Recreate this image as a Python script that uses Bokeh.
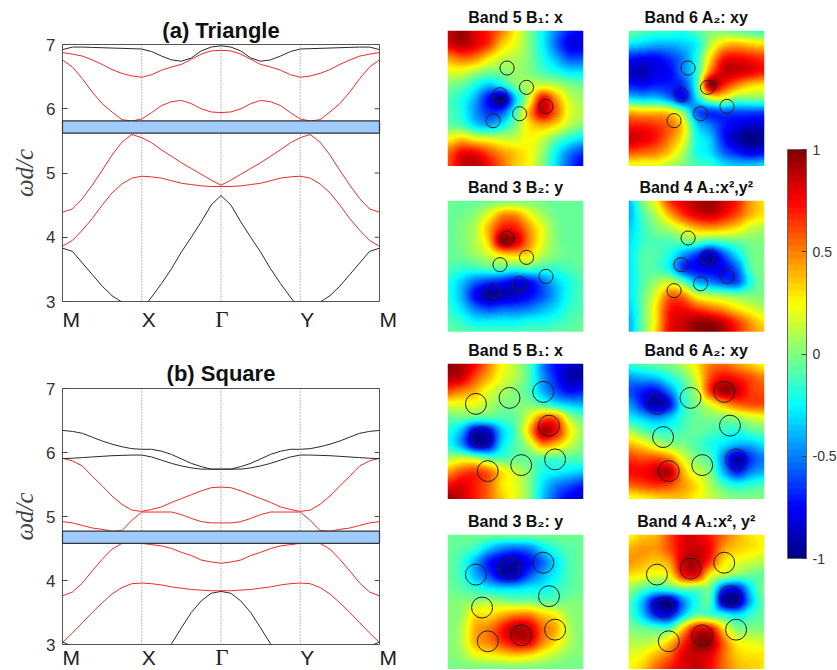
import numpy as np
from bokeh.core.properties import value
from bokeh.embed import file_html
from bokeh.resources import INLINE
from bokeh.plotting import figure
from bokeh.models import (ColorBar, FixedTicker, LinearColorMapper, Range1d, Span)

# ---------- band diagrams: values read from M to Gamma, every 1/8 of a segment (mirrored on Gamma)
tri_black_low = [3.83,3.78,3.60,3.42,3.24,3.09,2.99,None,2.87,3.07,3.28,3.51,3.77,4.00,4.24,4.50,4.65]
tri_red_1 = [3.86,3.95,4.11,4.29,4.50,4.69,4.83,4.92,4.95,4.94,4.92,4.88,4.84,4.82,4.80,4.79,4.79]
tri_red_2 = [4.39,4.44,4.60,4.81,5.04,5.28,5.48,5.60,5.55,5.47,5.36,5.26,5.16,5.07,4.98,4.89,4.81]
tri_red_3 = [6.76,6.65,6.47,6.26,6.08,5.95,5.83,5.81,5.84,5.94,6.05,6.11,6.13,6.08,6.00,5.95,5.94]
tri_red_4 = [6.875,6.85,6.82,6.76,6.69,6.61,6.55,6.51,6.49,6.53,6.60,6.65,6.69,6.77,6.85,6.90,6.91]
tri_black_top = [6.92,6.96,6.96,6.955,6.95,6.945,6.94,6.935,6.93,6.89,6.82,6.76,6.74,6.79,6.90,6.96,6.98]

sq_black_low = [3.04,2.97,None,None,None,None,None,None,None,None,2.87,3.01,3.26,3.50,3.68,3.80,3.83]
sq_red_1 = [3.03,3.18,3.34,3.50,3.65,3.79,3.89,3.95,3.96,3.95,3.93,3.90,3.88,3.86,3.85,3.84,3.84]
sq_red_2 = [3.76,3.82,3.96,4.15,4.33,4.49,4.58,4.60,4.58,4.56,4.54,4.50,4.44,4.39,4.32,4.29,4.27]
sq_red_3 = [4.92,4.90,4.86,4.82,4.80,4.77,4.78,4.94,5.07,5.07,5.07,5.07,5.03,4.97,4.92,4.90,4.90]
sq_red_4 = [5.91,5.87,5.79,5.63,5.48,5.32,5.19,5.10,5.08,5.11,5.15,5.22,5.28,5.34,5.40,5.45,5.46]
sq_black_1 = [5.905,5.91,5.92,5.93,5.94,5.95,5.955,5.96,5.96,5.93,5.88,5.83,5.79,5.76,5.74,5.74,5.74]
sq_black_2 = [6.345,6.33,6.30,6.24,6.18,6.13,6.09,6.06,6.05,6.05,6.02,5.97,5.90,5.83,5.78,5.74,5.74]

tri_gap = [5.62, 5.81]
sq_gap = [4.58, 4.77]
k_half = [0,.125,.25,.375,.5,.625,.75,.875,1,1.125,1.25,1.375,1.5,1.625,1.75,1.875,2]
k_ticks = [0, 1, 2, 3, 4]
k_labels = ["M","X","Γ","Y","M"]
w_ticks = [3,4,5,6,7]

# ---------- field maps: 11 x 11 values, top row first
f_tri_b5 = [
[.85,.95,.8,.7,.5,.25,0,-.25,-.5,-.7,-.75],
[.8,.9,.8,.65,.35,.2,0,-.25,-.55,-.8,-.8],
[.45,.55,.5,.3,.15,.1,0,-.2,-.4,-.6,-.6],
[.2,.2,.1,0,0,.05,0,-.1,-.2,-.3,-.3],
[0,-.05,-.2,-.35,-.25,0,.1,.15,.1,0,-.05],
[-.1,-.2,-.4,-.75,-1,-.35,.15,.75,.45,.15,.05],
[-.1,-.2,-.45,-.65,-.6,-.15,.4,.85,.55,.2,.1],
[-.05,-.1,-.3,-.4,-.25,0,.3,.4,.3,.1,0],
[.25,.35,.25,.2,.15,.15,.25,.15,-.05,-.2,-.3],
[.55,.75,.75,.6,.45,.35,.25,.05,-.25,-.5,-.65],
[.6,.85,.9,.75,.55,.35,.25,0,-.3,-.6,-.8]]
f_tri_a2 = [
[-.05,-.1,-.15,-.15,-.2,-.1,0,0,-.05,-.1,-.15],
[-.3,-.35,-.4,-.4,-.35,-.25,.1,.35,.4,.35,.3],
[-.7,-.75,-.75,-.65,-.5,-.2,.3,.7,.75,.7,.65],
[-.85,-.9,-.8,-.75,-.5,-.2,.5,.85,.85,.8,.7],
[-.7,-.75,-.7,-.7,-.65,-.15,.95,.7,.5,.35,.3],
[-.3,-.35,-.35,-.5,-.75,-.3,.15,.2,0,0,0],
[.4,.35,.35,.3,0,-.55,-.65,-.6,-.6,-.6,-.6],
[.7,.7,.65,.55,.3,-.3,-.5,-.7,-.8,-.85,-.85],
[.85,.8,.7,.5,.25,-.2,-.35,-.7,-.9,-1,-.95],
[.6,.55,.5,.35,.1,-.2,-.3,-.55,-.7,-.8,-.75],
[.2,.2,.2,.1,0,-.1,-.15,-.3,-.35,-.35,-.3]]
f_tri_b3 = [
[-.05,-.05,-.05,-.03,0,0,0,-.03,-.05,-.05,-.05],
[-.05,-.03,.03,.2,.45,.45,.25,.07,-.03,-.05,-.05],
[-.05,0,.1,.4,.7,.7,.45,.2,0,-.05,-.05],
[-.05,0,.1,.35,.95,.85,.5,.2,0,-.05,-.05],
[-.05,-.03,.05,.15,.3,.35,.3,.1,0,-.05,-.05],
[-.1,-.15,-.15,-.1,-.1,-.15,-.1,-.15,-.15,-.1,-.05],
[-.2,-.35,-.55,-.65,-.7,-.8,-.75,-.55,-.35,-.2,-.1],
[-.2,-.4,-.75,-.95,-.9,-.85,-.75,-.6,-.4,-.2,-.1],
[-.15,-.3,-.5,-.6,-.55,-.55,-.5,-.4,-.3,-.15,-.1],
[-.1,-.15,-.25,-.25,-.25,-.25,-.2,-.2,-.15,-.1,-.05],
[-.05,-.05,-.08,-.08,-.08,-.08,-.08,-.08,-.05,-.05,-.05]]
f_tri_a1 = [
[-.4,0,.25,.65,.8,.9,.95,.85,.7,.45,.3],
[-.4,-.1,.1,.4,.65,.8,.85,.75,.6,.4,.3],
[-.35,-.15,0,.1,.25,.4,.45,.4,.3,.15,.1],
[-.3,-.15,-.1,-.1,-.05,-.05,-.15,-.1,-.05,0,0],
[-.3,-.1,-.1,-.2,-.45,-.65,-.9,-.6,-.3,-.05,0],
[-.3,-.1,-.1,-.25,-.65,-.75,-.8,-.75,-.55,-.1,0],
[-.3,-.1,.05,.15,-.05,-.4,-.5,-.6,-.6,-.2,0],
[-.3,-.05,.2,.55,.5,.2,.1,.05,0,0,0],
[-.35,-.05,.3,.7,.75,.65,.55,.45,.3,.2,.1],
[-.4,-.05,.3,.75,.85,.95,.95,.85,.65,.45,.3],
[-.4,-.05,.35,.75,.85,.95,1,.9,.7,.5,.4]]
f_sq_b5 = [
[.95,.9,.75,.5,.25,.1,-.1,-.5,-.75,-.85,-.9],
[.9,.85,.6,.4,.2,.1,-.1,-.45,-.7,-.9,-.9],
[.6,.5,.4,.2,.1,0,-.1,-.4,-.6,-.75,-.7],
[.2,.2,.2,.1,0,0,0,-.1,-.25,-.35,-.4],
[-.05,-.05,-.1,-.1,-.1,-.05,.2,.55,.55,.1,-.05],
[-.2,-.4,-.85,-.8,-.35,-.1,.35,.9,.75,.3,.05],
[-.2,-.45,-.85,-.8,-.3,-.1,.1,.45,.35,.15,0],
[.1,.15,.1,-.05,-.1,-.05,-.05,-.1,-.1,-.1,-.1],
[.45,.6,.65,.55,.3,.15,0,-.2,-.25,-.3,-.35],
[.75,.8,.7,.55,.3,.2,0,-.3,-.5,-.6,-.7],
[.95,.85,.7,.55,.35,.2,0,-.35,-.6,-.8,-.85]]
f_sq_a2 = [
[-.15,-.1,-.05,0,.1,.3,.5,.55,.45,.35,.25],
[-.45,-.4,-.35,-.2,-.05,.2,.6,.75,.7,.6,.5],
[-.6,-.7,-.75,-.5,-.15,.1,.65,.95,.85,.65,.6],
[-.45,-.7,-.95,-.75,-.2,0,.2,.4,.55,.6,.6],
[-.25,-.35,-.45,-.35,-.15,-.05,0,0,.05,.15,.2],
[.1,-.05,-.15,-.15,-.1,-.05,-.1,-.15,-.2,-.1,-.05],
[.4,.3,.15,.05,0,-.1,-.2,-.3,-.4,-.4,-.3],
[.65,.6,.6,.5,.2,0,-.1,-.5,-.95,-.65,-.5],
[.75,.75,.85,.9,.4,.15,0,-.4,-.7,-.5,-.4],
[.55,.6,.65,.6,.45,.3,.1,-.1,-.2,-.15,-.1],
[.2,.25,.3,.35,.35,.25,.15,.05,0,0,0]]
f_sq_b3 = [
[-.03,-.03,-.03,-.03,-.03,-.03,-.03,-.03,-.03,-.03,-.03],
[-.05,-.08,-.15,-.35,-.5,-.55,-.5,-.3,-.15,-.08,-.05],
[-.05,-.15,-.4,-.7,-.85,-.9,-.75,-.55,-.3,-.1,-.05],
[-.05,-.15,-.4,-.6,-.85,-.85,-.6,-.4,-.25,-.1,-.05],
[-.03,-.08,-.15,-.25,-.3,-.3,-.25,-.25,-.15,-.08,-.03],
[0,.02,.05,.1,.05,0,0,-.05,-.05,0,0],
[0,.05,.3,.3,.4,.5,.5,.35,.25,.05,0],
[0,.1,.4,.5,.7,.9,.85,.55,.4,.1,0],
[0,.1,.4,.5,.65,.8,.8,.5,.3,.1,0],
[0,.05,.2,.25,.3,.35,.3,.2,.1,.02,0],
[-.03,-.03,-.03,-.03,-.03,-.03,-.03,-.03,-.03,-.03,-.03]]
f_sq_a1 = [
[.25,.35,.4,.6,.8,.8,.7,.55,.4,.3,.25],
[.4,.45,.45,.6,.8,.85,.75,.45,.35,.3,.25],
[.45,.4,.35,.45,.85,.9,.65,.3,.2,.15,.1],
[.3,.25,.2,.25,.7,.75,.25,.1,0,-.05,-.05],
[.05,-.1,-.2,-.15,-.05,-.05,-.05,-.65,-.75,-.3,0],
[-.1,-.4,-.85,-1,-.5,-.2,-.1,-.9,-.95,-.4,-.05],
[-.1,-.35,-.7,-.75,-.35,-.05,-.1,-.2,-.3,-.15,-.05],
[0,-.05,-.1,-.1,.35,.75,.75,.3,0,0,0],
[.1,.1,.15,.35,.65,.95,.95,.55,.25,.2,.15],
[.2,.25,.4,.55,.8,.85,.8,.55,.35,.3,.3],
[.25,.35,.55,.7,.8,.85,.75,.55,.4,.35,.3]]

tri_rod_x = [.438,.581,.386,.724,.530,.335]
tri_rod_y = [.724,.582,.528,.442,.388,.337]
sq_rod_x = [.209,.456,.704,.254,.746,.296,.542,.791]
sq_rod_y = [.703,.747,.791,.459,.543,.209,.253,.295]
tri_rod_r = .052
sq_rod_r = .077

cbar_ticks = [-1,-.5,0,.5,1]
cbar_labels = {-1: "-1", -.5: "-0.5", 0: "0", .5: "0.5", 1: "1"}


def jet(n=64):
    out = []
    for i in range(n):
        t = (i + .5) / n
        r = np.clip(min(4*t-1.5, -4*t+4.5), 0, 1)
        g = np.clip(min(4*t-.5, -4*t+3.5), 0, 1)
        b = np.clip(min(4*t+.5, -4*t+2.5), 0, 1)
        out.append("#%02x%02x%02x" % (int(r*255), int(g*255), int(b*255)))
    return out


mapper = LinearColorMapper(palette=jet(), low=-1, high=1)


def smooth(grid, n=136):
    a = np.array(grid, float)
    def along(arr):
        m = arr.shape[0]
        t = np.linspace(0, m-1, n)
        i = np.minimum(t.astype(int), m-2)
        f = (t-i)[:, None]
        p0, p1, p2, p3 = arr[np.maximum(i-1,0)], arr[i], arr[i+1], arr[np.minimum(i+2,m-1)]
        return .5*(2*p1 + (p2-p0)*f + (2*p0-5*p1+4*p2-p3)*f**2 + (3*p1-p0-3*p2+p3)*f**3)
    b = along(a)
    c = along(b.T).T
    return np.clip(c, -1, 1)


def place(p, left, top):
    p.styles = {"position": "absolute", "left": f"{left}px", "top": f"{top}px"}
    return p


FONT = "Liberation Sans"


def band_panel(title, curves, gap, left, top, fh, mtop, standoff):
    p = figure(width=62+317+12, height=mtop+fh+12, output_backend="svg", toolbar_location=None,
               x_range=Range1d(0, 4), y_range=Range1d(3, 7),
               min_border_left=62, min_border_right=12, min_border_top=mtop, min_border_bottom=12,
               y_axis_location="left", x_axis_location=None, title=title)
    p.title.align = "center"
    p.title.text_font = FONT
    p.title.text_font_size = "22px"
    p.title.text_font_style = "bold"
    p.title.text_color = "#111111"
    p.title.standoff = standoff
    p.grid.visible = False
    p.outline_line_color = "#555555"
    p.outline_line_width = 1
    k = k_half + [4-v for v in k_half[-2::-1]]
    p.quad(left=0, right=4, bottom=gap[0], top=gap[1], fill_color="#9fcbfd", line_color="#333333", line_width=1.2, level="overlay")
    for v in k_ticks[1:-1]:
        p.add_layout(Span(location=v, dimension="height", line_color="#777777", line_dash="1 2", line_width=1))
    for vals, col in curves:
        full = vals + vals[-2::-1]
        ys = [np.nan if y is None else y for y in full]
        p.line(k, ys, line_color=col, line_width=1)
    ay = p.yaxis[0]
    ay.ticker = FixedTicker(ticks=w_ticks)
    ay.major_tick_in = 5
    ay.major_tick_out = 0
    ay.minor_tick_line_color = None
    ay.major_tick_line_color = "#444444"
    ay.axis_line_color = None
    ay.major_label_text_font = FONT
    ay.major_label_text_font_size = "17px"
    ay.major_label_text_color = "#333333"
    ay.major_label_standoff = 7
    ay.axis_label = "ωd/c"
    ay.axis_label_text_font = "Liberation Serif"
    ay.axis_label_text_font_style = "italic"
    ay.axis_label_text_font_size = "25px"
    ay.axis_label_text_color = "#444444"
    ay.axis_label_standoff = 5
    # inward ticks on the right edge of the frame
    p.segment(x0=[4]*len(w_ticks), x1=[3.94]*len(w_ticks), y0=w_ticks, y1=w_ticks, line_color="#444444", line_width=1)
    return place(p, left, top)


def k_strip(left, top):
    """The M X Gamma Y M row: left-aligned at each symmetry point, as in the reference."""
    width, height = 340, 26
    s = figure(width=width, height=height, output_backend="svg", toolbar_location=None,
               x_range=Range1d(0, width/79.25), y_range=Range1d(0, 1), min_border=0, x_axis_location=None, y_axis_location=None,
               background_fill_color=None, border_fill_color=None)
    s.grid.visible = False
    s.outline_line_color = None
    sans = [i for i, t in enumerate(k_labels) if t != "Γ"]
    serif = [i for i, t in enumerate(k_labels) if t == "Γ"]
    s.text(x=[k_ticks[i] for i in sans], y=[.5]*len(sans), text=[k_labels[i] for i in sans], text_align="left", text_baseline="middle",
           text_font=value(FONT), text_font_size="21px", text_color="#222222")
    s.text(x=[k_ticks[i] for i in serif], y=[.5]*len(serif), text=[k_labels[i] for i in serif], text_align="center", text_baseline="middle",
           x_offset=1, text_font=value("Liberation Serif"), text_font_size="23px", text_color="#222222")
    return place(s, left, top)


def heat_panel(title, grid, xs, ys, r, left, top, h=136):
    mtop = 32
    p = figure(width=136+40, height=mtop+h, output_backend="svg", toolbar_location=None,
               x_range=Range1d(0, 1), y_range=Range1d(0, 1), min_border_left=20, min_border_right=20,
               min_border_top=mtop, min_border_bottom=0, title=title, x_axis_location=None, y_axis_location=None)
    p.grid.visible = False
    p.outline_line_color = None
    p.title.align = "center"
    p.title.text_font = FONT
    p.title.text_font_size = "16px"
    p.title.text_font_style = "bold"
    p.title.text_color = "#111111"
    p.title.standoff = 10
    p.image(image=[smooth(grid)[::-1]], x=0, y=0, dw=1, dh=1, color_mapper=mapper)
    p.circle(xs, ys, radius=r, fill_color=None, line_color="#222222", line_width=1)
    return place(p, left, top-mtop)


R, K = "#ee2a2a", "#2a2a2a"
pa = band_panel("(a) Triangle", [(tri_black_low, K), (tri_red_1, R), (tri_red_2, R), (tri_red_3, R), (tri_red_4, R), (tri_black_top, K)],
                tri_gap, 0, 8, 257, 36, 4)
pb = band_panel("(b) Square", [(sq_black_low, K), (sq_red_1, R), (sq_red_2, R), (sq_red_3, R), (sq_red_4, R), (sq_black_1, K), (sq_black_2, K)],
                sq_gap, 0, 352, 256, 36, 6)
sa = k_strip(62, 306)
sb = k_strip(62, 644)

C1, C2 = 447-20, 628-20
heat = [
    heat_panel("Band 5 B₁: x", f_tri_b5, tri_rod_x, tri_rod_y, tri_rod_r, C1, 30),
    heat_panel("Band 6 A₂: xy", f_tri_a2, tri_rod_x, tri_rod_y, tri_rod_r, C2, 30),
    heat_panel("Band 3 B₂: y", f_tri_b3, tri_rod_x, tri_rod_y, tri_rod_r, C1, 200),
    heat_panel("Band 4 A₁:x²,y²", f_tri_a1, tri_rod_x, tri_rod_y, tri_rod_r, C2, 200),
    heat_panel("Band 5 B₁: x", f_sq_b5, sq_rod_x, sq_rod_y, sq_rod_r, C1, 363),
    heat_panel("Band 6 A₂: xy", f_sq_a2, sq_rod_x, sq_rod_y, sq_rod_r, C2, 363),
    heat_panel("Band 3 B₂: y", f_sq_b3, sq_rod_x, sq_rod_y, sq_rod_r, C1, 534, 135),
    heat_panel("Band 4 A₁:x², y²", f_sq_a1, sq_rod_x, sq_rod_y, sq_rod_r, C2, 534, 135),
]

pc = figure(width=50, height=429, output_backend="svg", toolbar_location=None, x_range=Range1d(0, 1), y_range=Range1d(0, 1),
            min_border=0, x_axis_location=None, y_axis_location=None)
pc.grid.visible = False
pc.outline_line_color = None
cb = ColorBar(color_mapper=mapper, ticker=FixedTicker(ticks=cbar_ticks), major_label_overrides=cbar_labels,
              width=19, height=409, location=(0, 10), padding=0, margin=0,
              major_tick_in=5, major_tick_out=0, major_tick_line_color="#444444", minor_tick_line_color=None, bar_line_color="#666666",
              major_label_text_font=FONT, major_label_text_font_size="14px", major_label_text_color="#333333",
              label_standoff=6, background_fill_color=None, border_line_color=None)
pc.add_layout(cb)
place(pc, 787, 139)
pc.line([0, 1], [-5, -5], line_alpha=0)

open("out.html", "w").write(file_html([pa, pb, sa, sb] + heat + [pc], INLINE))
